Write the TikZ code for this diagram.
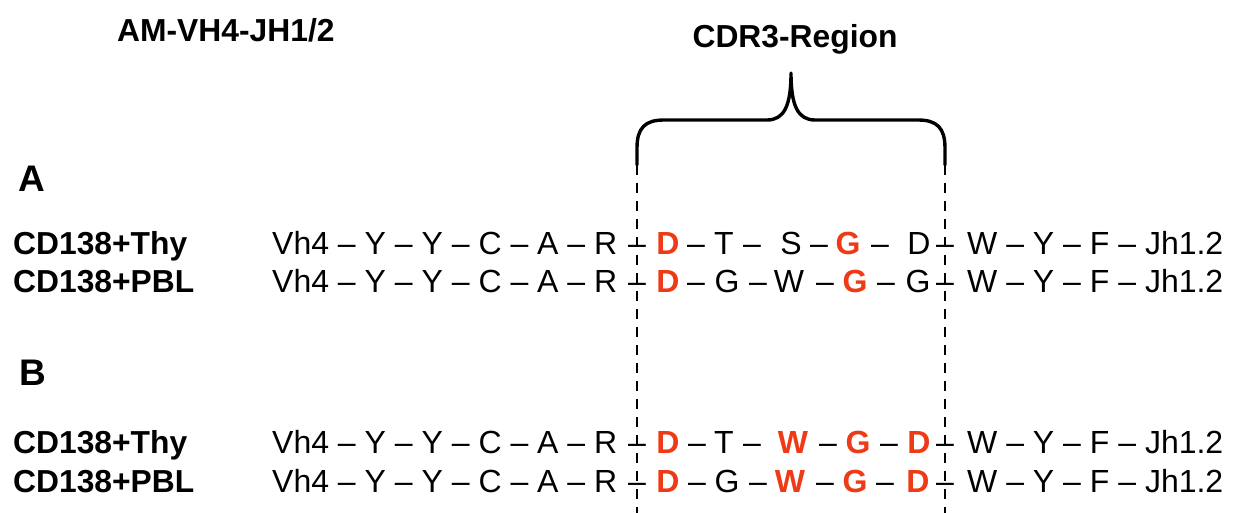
\documentclass[tikz,border=0pt]{standalone}
\usepackage{fontspec}
\setmainfont{Liberation Sans}
\definecolor{cdrred}{RGB}{238,58,22}
\tikzset{
  res/.style={anchor=base, inner sep=0pt, font=\fontsize{32}{36}\selectfont},
  hl/.style={anchor=base, inner sep=0pt, font=\fontsize{32}{36}\selectfont\bfseries, text=cdrred},
  seqw/.style={anchor=base west, inner sep=0pt, font=\fontsize{32}{36}\selectfont},
  lbl/.style={anchor=base west, inner sep=0pt, font=\fontsize{31.8}{36}\selectfont\bfseries},
  panel/.style={anchor=base west, inner sep=0pt, font=\fontsize{37}{40}\selectfont\bfseries},
  brace/.style={line width=3.4pt, line cap=round, line join=round},
  sep/.style={line width=2.3pt, dash pattern=on 10pt off 8pt}
}
\newcommand{\nd}{\textendash}
\begin{document}
\begin{tikzpicture}[x=1pt,y=-1pt]
\useasboundingbox (0,0) rectangle (1235,513);
% titles
\node[lbl] (title) at (117,42) {AM-VH4-JH1/2};
\node[lbl, anchor=base] (cdr) at (795,48) {CDR3-Region};
% brace and separators
\coordinate (bl) at (637,165);
\coordinate (br) at (945,165);
\coordinate (tip) at (791,73);
\coordinate (bl2) at (637,513);
\coordinate (br2) at (945,513);
\draw[brace] (bl) -- (637,148) .. controls (637,128) and (645,120) .. (664,120)
  -- (767,120) .. controls (784,120) and (791,106) .. (tip)
  .. controls (791,106) and (798,120) .. (815,120)
  -- (918,120) .. controls (937,120) and (945,128) .. (945,148) -- (br);
\draw[sep] (bl) -- (bl2);
\draw[sep] (br) -- (br2);
% panel letters
\node[panel] (pa) at (18,192) {A};
\node[panel] (pb) at (19,385) {B};
% ---------- Row A1 ----------
\node[lbl] (la1) at (13,255) {CD138+Thy};
\node[seqw] (sa1l) at (272,255) {Vh4 \nd{} Y \nd{} Y \nd{} C \nd{} A \nd{} R};
\node[res] (a1x1) at (637,255) {\nd};
\node[hl]  (a1c1) at (668,255) {D};
\node[res] (a1c2) at (696,255) {\nd};
\node[res] (a1c3) at (724,255) {T};
\node[res] (a1c4) at (752,255) {\nd};
\node[res] (a1c5) at (791,255) {S};
\node[res] (a1c6) at (819,255) {\nd};
\node[hl]  (a1c7) at (848,255) {G};
\node[res] (a1c8) at (880,255) {\nd};
\node[res] (a1c9) at (919,255) {D};
\node[res] (a1x2) at (945,255) {\nd};
\node[seqw] (sa1r) at (967,255) {W \nd{} Y \nd{} F \nd{} Jh1.2};
% ---------- Row A2 ----------
\node[lbl] (la2) at (13,293) {CD138+PBL};
\node[seqw] (sa2l) at (272,293) {Vh4 \nd{} Y \nd{} Y \nd{} C \nd{} A \nd{} R};
\node[res] (a2x1) at (637,293) {\nd};
\node[hl]  (a2c1) at (668,293) {D};
\node[res] (a2c2) at (696,293) {\nd};
\node[res] (a2c3) at (727,293) {G};
\node[res] (a2c4) at (758,293) {\nd};
\node[res] (a2c5) at (789,293) {W};
\node[res] (a2c6) at (825,293) {\nd};
\node[hl]  (a2c7) at (855,293) {G};
\node[res] (a2c8) at (886,293) {\nd};
\node[res] (a2c9) at (918,293) {G};
\node[res] (a2x2) at (945,293) {\nd};
\node[seqw] (sa2r) at (967,293) {W \nd{} Y \nd{} F \nd{} Jh1.2};
% ---------- Row B1 ----------
\node[lbl] (lb1) at (13,453) {CD138+Thy};
\node[seqw] (sb1l) at (272,453) {Vh4 \nd{} Y \nd{} Y \nd{} C \nd{} A \nd{} R};
\node[res] (b1x1) at (637,453) {\nd};
\node[hl]  (b1c1) at (668,453) {D};
\node[res] (b1c2) at (697,453) {\nd};
\node[res] (b1c3) at (724,453) {T};
\node[res] (b1c4) at (752,453) {\nd};
\node[hl]  (b1c5) at (793,453) {W};
\node[res] (b1c6) at (828,453) {\nd};
\node[hl]  (b1c7) at (858,453) {G};
\node[res] (b1c8) at (889,453) {\nd};
\node[hl]  (b1c9) at (919,453) {D};
\node[res] (b1x2) at (945,453) {\nd};
\node[seqw] (sb1r) at (967,453) {W \nd{} Y \nd{} F \nd{} Jh1.2};
% ---------- Row B2 ----------
\node[lbl] (lb2) at (13,492) {CD138+PBL};
\node[seqw] (sb2l) at (272,492) {Vh4 \nd{} Y \nd{} Y \nd{} C \nd{} A \nd{} R};
\node[res] (b2x1) at (637,492) {\nd};
\node[hl]  (b2c1) at (668,492) {D};
\node[res] (b2c2) at (697,492) {\nd};
\node[res] (b2c3) at (727,492) {G};
\node[res] (b2c4) at (758,492) {\nd};
\node[hl]  (b2c5) at (790,492) {W};
\node[res] (b2c6) at (825,492) {\nd};
\node[hl]  (b2c7) at (855,492) {G};
\node[res] (b2c8) at (885,492) {\nd};
\node[hl]  (b2c9) at (918,492) {D};
\node[res] (b2x2) at (945,492) {\nd};
\node[seqw] (sb2r) at (967,492) {W \nd{} Y \nd{} F \nd{} Jh1.2};
\end{tikzpicture}
\end{document}
